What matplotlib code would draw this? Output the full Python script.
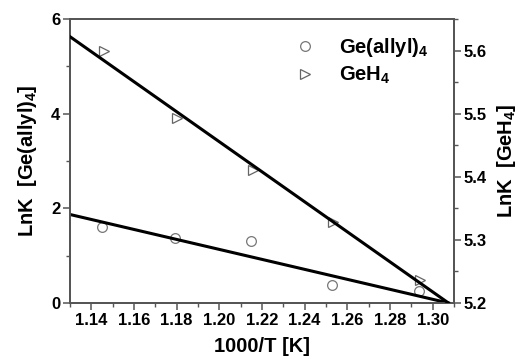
import numpy as np
import matplotlib
matplotlib.use("Agg")
import matplotlib.pyplot as plt
from matplotlib.ticker import MultipleLocator

plt.rcParams['font.family'] = ['Liberation Sans', 'DejaVu Sans']
plt.rcParams['font.weight'] = 'bold'
plt.rcParams['mathtext.fontset'] = 'custom'
plt.rcParams['mathtext.rm'] = 'Liberation Sans:bold'
plt.rcParams['mathtext.default'] = 'rm'

# Ge(allyl)4, left axis
x_allyl = [1.145, 1.179, 1.215, 1.253, 1.2936]
y_allyl = [1.61, 1.37, 1.30, 0.38, 0.25]
# GeH4, right axis
x_geh4 = [1.146, 1.180, 1.216, 1.2534, 1.294]
y_geh4 = [5.600, 5.493, 5.410, 5.329, 5.237]

# fitted lines (end points)
fit_x = [1.13, 1.3074]
fit_allyl = [1.87, 0.0]
fit_geh4 = [5.622, 5.200]

axis_col = '#555555'

fig = plt.figure(figsize=(5.22, 3.62), dpi=100)
ax = fig.add_axes([70/522, 1 - 303/362, 384/522, 284/362])
ax2 = ax.twinx()

ax.plot(fit_x, fit_allyl, c='black', lw=2.2, zorder=3)
ax.plot(x_allyl, y_allyl, ls='none', marker='o', ms=7, mfc='none', mec='#777777', mew=0.9, zorder=2)
ax2.plot(fit_x, fit_geh4, c='black', lw=2.2, zorder=3)
ax2.plot(x_geh4, y_geh4, ls='none', marker='>', ms=7, mfc='none', mec='#666666', mew=0.9, zorder=2)

ax.set_xlim(1.13, 1.31)
ax.set_ylim(0, 6)
ax2.set_ylim(5.2, 5.65)

ax.xaxis.set_major_locator(MultipleLocator(0.02))
ax.xaxis.set_minor_locator(MultipleLocator(0.01))
ax.yaxis.set_major_locator(MultipleLocator(2))
ax.yaxis.set_minor_locator(MultipleLocator(1))
ax2.yaxis.set_major_locator(MultipleLocator(0.1))
ax2.yaxis.set_minor_locator(MultipleLocator(0.05))
ax.set_xticks(ax.get_xticks())
ax.set_xticklabels([f"{t:.2f}" for t in ax.get_xticks()])
ax2.set_yticks(ax2.get_yticks())
ax2.set_yticklabels([f"{t:.1f}" for t in ax2.get_yticks()])
ax.set_xlim(1.13, 1.31)
ax2.set_ylim(5.2, 5.65)

for a in (ax, ax2):
    for s in a.spines.values():
        s.set_color(axis_col)
        s.set_linewidth(1.3)
    a.tick_params(which='major', length=5, width=1.1, color=axis_col, labelsize=12, pad=2)
    a.tick_params(which='minor', length=3, width=1.0, color=axis_col)

ax.set_xlabel("1000/T [K]", fontsize=14.5, fontweight='bold', labelpad=7)
ax.set_ylabel("LnK  [Ge(allyl)$_4$]", fontsize=14.5, fontweight='bold', labelpad=9)
ax2.set_ylabel("LnK  [GeH$_4$]", fontsize=14.5, fontweight='bold', labelpad=6)

# legend
ax.plot([], [], ls='none', marker='o', ms=7, mfc='none', mec='#777777', mew=0.9, label='Ge(allyl)$_4$')
ax.plot([], [], ls='none', marker='>', ms=7, mfc='none', mec='#666666', mew=0.9, label='GeH$_4$')
ax.legend(loc='upper left', bbox_to_anchor=(0.56, 0.94), frameon=False, fontsize=14.5,
          handletextpad=0.7, labelspacing=0.3, borderpad=0, borderaxespad=0)

fig.savefig("out.png", dpi=100)
